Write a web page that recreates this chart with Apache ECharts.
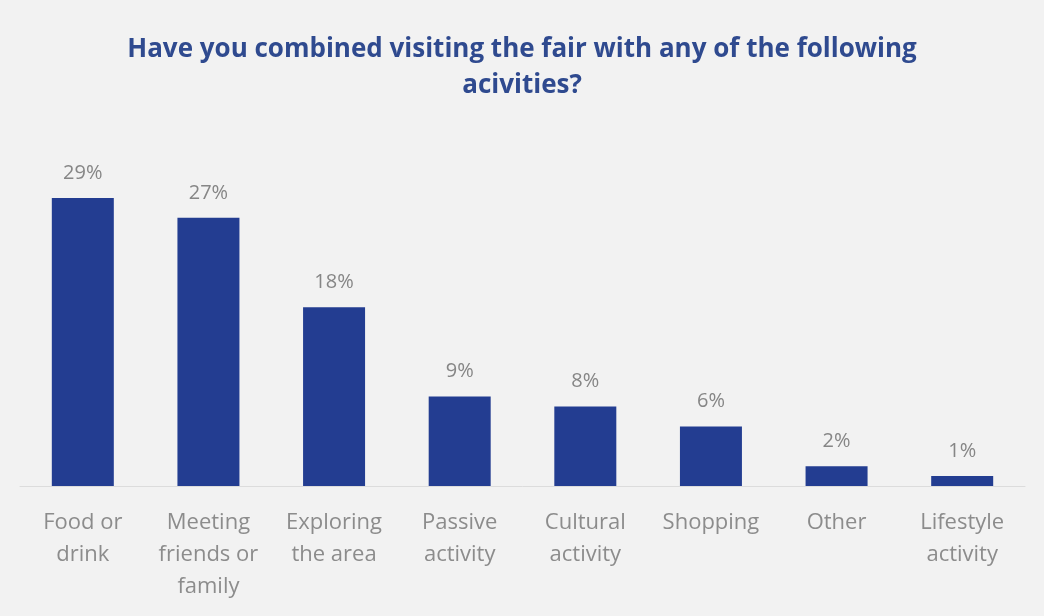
<!DOCTYPE html>
<html>
<head>
<meta charset="utf-8">
<script src="https://cdn.jsdelivr.net/npm/echarts@6/dist/echarts.min.js"></script>
<style>
  html, body { margin: 0; padding: 0; background: #f2f2f2; }
  #chart { width: 1044px; height: 616px; }
</style>
</head>
<body>
<div id="chart"></div>
<script>
// Survey answers: share of visitors combining the fair with other activities
const categories = [
  'Food or\ndrink',
  'Meeting\nfriends or\nfamily',
  'Exploring\nthe area',
  'Passive\nactivity',
  'Cultural\nactivity',
  'Shopping',
  'Other',
  'Lifestyle\nactivity'
];
const shares = [29, 27, 18, 9, 8, 6, 2, 1];

const chart = echarts.init(document.getElementById('chart'));
chart.setOption({
  backgroundColor: '#f2f2f2',
  animation: false,
  title: {
    text: 'Have you combined visiting the fair with any of the following\nacivities?',
    left: 'center',
    top: 27,
    textStyle: {
      fontFamily: 'Open Sans',
      fontWeight: 700,
      fontSize: 26,
      lineHeight: 36,
      color: '#2f4a8f'
    }
  },
  grid: { left: 20, right: 19, top: 188, bottom: 130, containLabel: false },
  xAxis: {
    type: 'category',
    data: categories,
    axisLine: { show: true, lineStyle: { color: '#dcdcdc', width: 1 } },
    axisTick: { show: false },
    axisLabel: {
      interval: 0,
      margin: 21,
      fontFamily: 'Open Sans',
      fontSize: 22,
      lineHeight: 32,
      color: '#8c8c8c'
    }
  },
  yAxis: {
    type: 'value',
    min: 0,
    max: 30,
    show: false
  },
  series: [{
    type: 'bar',
    data: shares,
    barWidth: 62,
    itemStyle: { color: '#233d91' },
    label: {
      show: true,
      position: 'top',
      distance: 15,
      formatter: '{c}%',
      fontFamily: 'Open Sans',
      fontSize: 20,
      color: '#868686'
    }
  }]
});
</script>
</body>
</html>
